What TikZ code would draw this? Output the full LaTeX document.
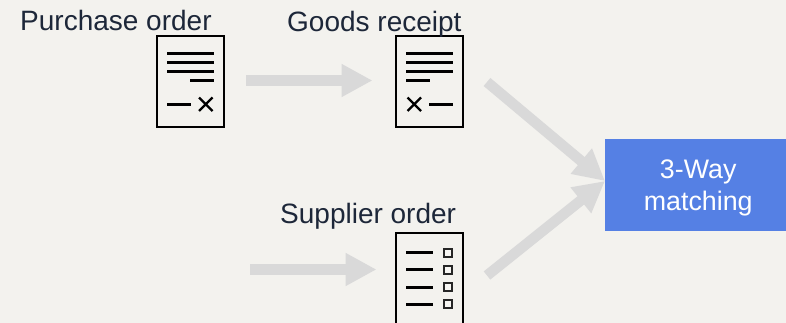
\documentclass[tikz,border=0pt]{standalone}
\usepackage{fontspec}
\setmainfont{Liberation Sans}
\usetikzlibrary{arrows.meta}
\definecolor{bg}{HTML}{F3F2EE}
\definecolor{ink}{HTML}{1D2739}
\definecolor{flow}{HTML}{D9D9D9}
\definecolor{boxblue}{HTML}{5580E4}
\tikzset{
  docbox/.style={draw=black,line width=2.2pt,fill=none,minimum width=67pt,minimum height=91pt,inner sep=0pt,outer sep=0pt,anchor=north west},
  flowarrow/.style={draw=flow,line width=10.5pt,-{Triangle[length=31pt,width=31pt]}},
  markline/.style={draw=black,line width=2.7pt},
  cross/.style={draw=black,line width=2.4pt},
  tick/.style={draw=black!85,line width=2pt,fill=bg!70!white,minimum size=8pt,inner sep=0pt,outer sep=0pt},
  lbl/.style={text=ink,inner sep=0pt,anchor=base west,font=\fontsize{28}{32}\selectfont},
  result/.style={fill=boxblue,text=white,font=\fontsize{26.8}{32}\selectfont,align=center,inner sep=0pt,minimum width=181pt,minimum height=92pt,anchor=north west},
}
\begin{document}
\begin{tikzpicture}[x=1pt,y=-1pt]
\useasboundingbox[fill=bg] (0,0) rectangle (786,323);
% documents
\node[docbox] (po) at (156.7,35.7) {};
\node[docbox] (gr) at (395.7,35.7) {};
\begin{scope}
\clip (380,225) rectangle (480,323);
\node[docbox] (so) at (395.7,232.7) {};
\end{scope}
% result box
\node[result] (match) at (605,139) {\hspace*{5pt}\raisebox{-9pt}[0pt][0pt]{3-Way}\\\hspace*{5pt}\raisebox{-9pt}[0pt][0pt]{matching}};
% labels
\node[lbl] (lpo) at (20,30.5) {Purchase order};
\node[lbl] (lgr) at (287,32) {Goods receipt};
\node[lbl] (lso) at (280,223.5) {Supplier order};
% purchase order marks
\draw[markline] (167,53.5) -- (214,53.5) (167,62.5) -- (214,62.5) (167,71.5) -- (214,71.5) (190,80.5) -- (214,80.5) (167,104.5) -- (191,104.5);
\draw[cross] (199,97.5) -- (212.5,111) (212.5,97.5) -- (199,111);
% goods receipt marks
\draw[markline] (406,53.5) -- (453,53.5) (406,62.5) -- (453,62.5) (406,71.5) -- (453,71.5) (406,80.5) -- (430,80.5) (429,104.5) -- (453,104.5);
\draw[cross] (407.5,97.5) -- (421,111) (421,97.5) -- (407.5,111);
% supplier order marks
\draw[markline] (406,252.5) -- (433,252.5) (406,269.5) -- (433,269.5) (406,287.5) -- (433,287.5) (406,304.5) -- (433,304.5);
\node[tick] (t1) at (447.5,252.5) {};
\node[tick] (t2) at (447.5,269.5) {};
\node[tick] (t3) at (447.5,287) {};
\node[tick] (t4) at (447.5,304) {};
% connectors
\coordinate (a1s) at (246,80.5);
\coordinate (a1e) at (372.5,80.5);
\coordinate (a2s) at (250,269.5);
\coordinate (a2e) at (376.5,269.5);
\coordinate (a3s) at (487,82);
\coordinate (a3e) at (605,181);
\coordinate (a4s) at (487,275.5);
\coordinate (a4e) at (605,181);
\draw[flowarrow] (a1s) -- (a1e);
\draw[flowarrow] (a2s) -- (a2e);
\draw[flowarrow] (a3s) -- (a3e);
\draw[flowarrow] (a4s) -- (a4e);
\end{tikzpicture}
\end{document}
